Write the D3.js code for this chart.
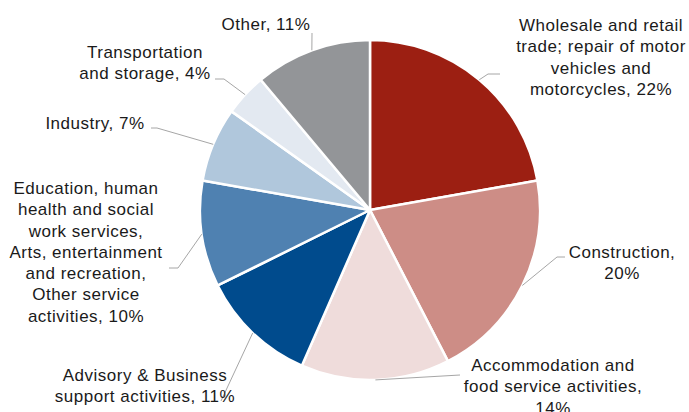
<!DOCTYPE html>
<html>
<head>
<meta charset="utf-8">
<script src="https://cdn.jsdelivr.net/npm/d3@7"></script>
<style>
  html, body { margin: 0; padding: 0; background: #fff; }
  svg { display: block; }
  .lbl { font-family: "Liberation Sans", Arial, sans-serif; font-size: 17px; fill: #1a1a1a; letter-spacing: 0.5px; }
</style>
</head>
<body>
<svg id="chart" width="689" height="412"></svg>
<script>
// Sector shares of employment, clockwise from 12 o'clock
const categories = [
  "Wholesale and retail trade; repair of motor vehicles and motorcycles",
  "Construction",
  "Accommodation and food service activities",
  "Advisory & Business support activities",
  "Education, human health and social work services, Arts, entertainment and recreation, Other service activities",
  "Industry",
  "Transportation and storage",
  "Other"
];
const shares = [22, 20, 14, 11, 10, 7, 4, 11];
const sliceColors = ["#9c1f12", "#cd8d86", "#efdcdb", "#004b8d", "#4f81b1", "#b0c7dc", "#e3e9f1", "#939598"];

// Wrapped label text (last line carries the share)
const labelLines = [
  ["Wholesale and retail", "trade; repair of motor", "vehicles and", "motorcycles, 22%"],
  ["Construction,", "20%"],
  ["Accommodation and", "food service activities,", "14%"],
  ["Advisory & Business", "support activities, 11%"],
  ["Education, human", "health and social", "work services,", "Arts, entertainment", "and recreation,", "Other service", "activities, 10%"],
  ["Industry, 7%"],
  ["Transportation", "and storage, 4%"],
  ["Other, 11%"]
];

// Label placement: text centre x, first line centre y, leader elbow and end
const labelLayout = [
  { x: 601, y: 25,  elbow: [488, 74],  end: [500, 74] },
  { x: 622, y: 252, elbow: [557, 257], end: [565, 257] },
  { x: 553, y: 365, elbow: [460, 375], end: [460, 375] },
  { x: 145, y: 375, elbow: [221, 401], end: [221, 401] },
  { x: 86,  y: 188, elbow: [178, 268], end: [169, 268] },
  { x: 95,  y: 123, elbow: [157, 128], end: [151, 128] },
  { x: 145, y: 52,  elbow: [224, 79],  end: [215, 79] },
  { x: 266, y: 24,  elbow: [312, 33],  end: [312, 33] }
];

const cx = 370, cy = 210, radius = 170, lineGap = 21.3;

const svg = d3.select("#chart");
const g = svg.append("g").attr("transform", `translate(${cx},${cy})`);

const pie = d3.pie().sort(null).value(d => d.value);
const arcs = pie(shares.map((v, i) => ({ value: v, name: categories[i], i })));
const arc = d3.arc().innerRadius(0).outerRadius(radius);

g.selectAll("path.slice")
  .data(arcs)
  .join("path")
  .attr("class", "slice")
  .attr("d", arc)
  .attr("fill", d => sliceColors[d.data.i])
  .attr("stroke", "#fff")
  .attr("stroke-width", 2.5)
  .attr("stroke-linejoin", "round");

// Leader lines from each slice's outer mid-point
const leaders = svg.append("g").attr("fill", "none").attr("stroke", "#a6a6a6").attr("stroke-width", 1);
arcs.forEach((d, i) => {
  const a = (d.startAngle + d.endAngle) / 2;
  const sx = cx + radius * Math.sin(a);
  const sy = cy - radius * Math.cos(a);
  const L = labelLayout[i];
  leaders.append("polyline")
    .attr("points", [[sx, sy], L.elbow, L.end].map(p => p.join(",")).join(" "));
});

// Labels
const labels = svg.append("g");
labelLines.forEach((lines, i) => {
  const L = labelLayout[i];
  const t = labels.append("text")
    .attr("class", "lbl")
    .attr("text-anchor", "middle");
  lines.forEach((s, k) => {
    t.append("tspan")
      .attr("x", L.x)
      .attr("y", L.y + k * lineGap)
      .attr("dy", "0.35em")
      .text(s);
  });
});
</script>
</body>
</html>
